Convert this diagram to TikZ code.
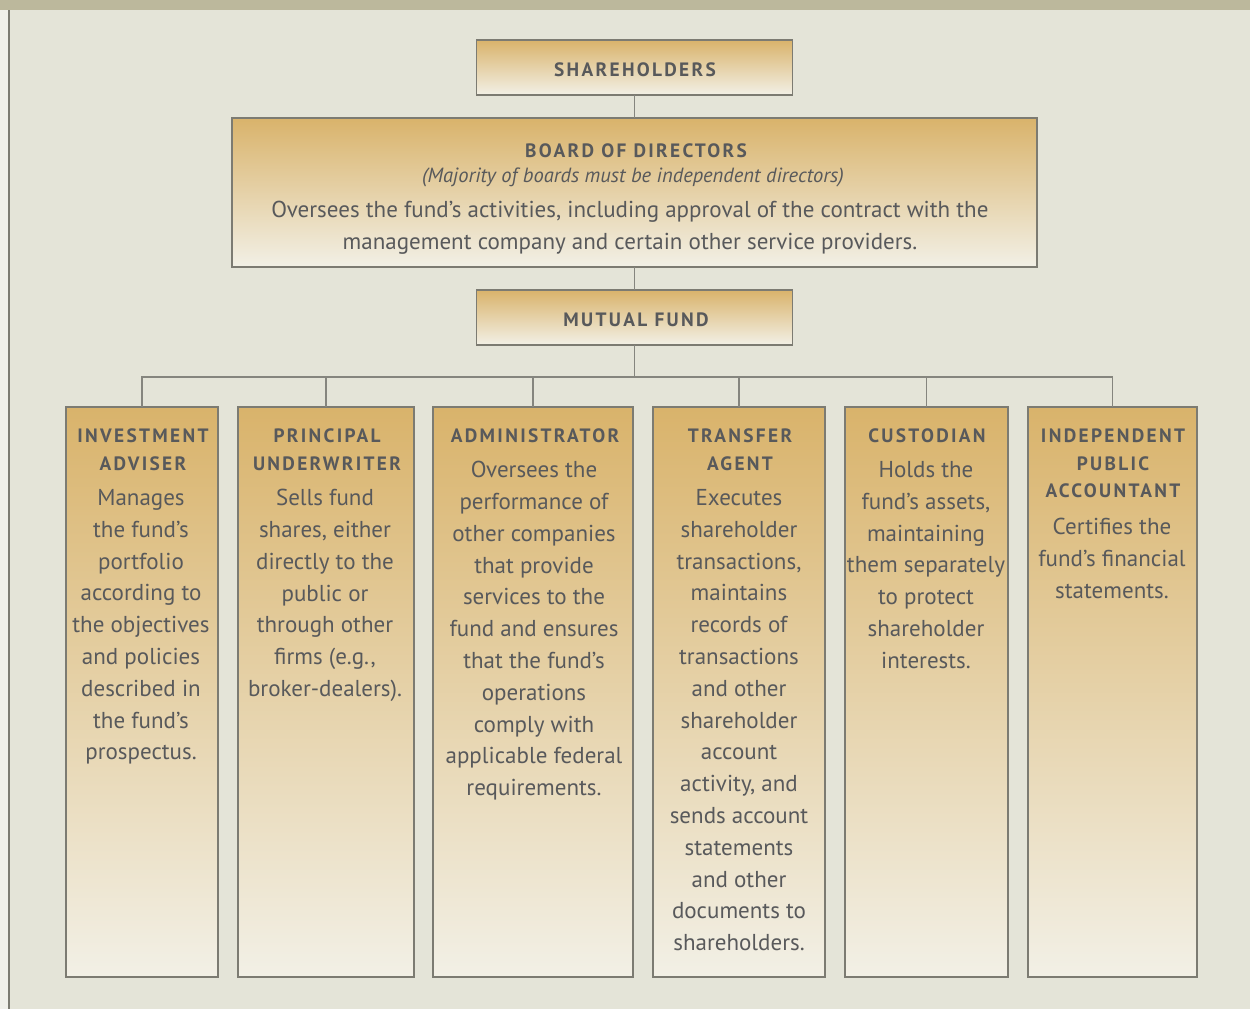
\documentclass[tikz,border=0pt]{standalone}
\usepackage{fontspec}
\setmainfont{PT Sans}
\newfontfamily\headfont[LetterSpace=12]{PT Sans}
\usepackage{tikz}
\definecolor{paper}{HTML}{E4E4D8}
\definecolor{band}{HTML}{BCB89C}
\definecolor{edge}{HTML}{F0F0EA}
\definecolor{ink}{HTML}{58595B}
\definecolor{gold}{HTML}{D9B36B}
\definecolor{cream}{HTML}{F2F0E6}
\definecolor{frame}{HTML}{7C7B72}
\definecolor{wire}{HTML}{85857E}

\begin{document}
\begin{tikzpicture}[x=0.02cm, y=-0.02cm,
    box/.style={draw=frame, line width=0.7pt, top color=gold, bottom color=cream,
                inner sep=0pt, outer sep=0pt},
    head/.style={text=ink, align=center, inner sep=0pt, anchor=north,
                 font=\headfont\bfseries\fontsize{11}{15.9}\selectfont},
    body/.style={text=ink, align=center, inner sep=0pt, anchor=north,
                 font=\fontsize{13.1}{18.1}\selectfont},
    note/.style={text=ink, align=center, inner sep=0pt, anchor=north,
                 font=\itshape\fontsize{11.7}{14}\selectfont},
    wired/.style={draw=wire, line width=0.7pt}]

      \useasboundingbox (0, 0) rectangle (1250, 1008);
      \fill[paper] (-10, -10) rectangle (1260, 1020);
      \fill[edge] (-10, 10) rectangle (9, 1020);
      \draw[frame, line width=0.7pt] (9, 10) -- (9, 1020);
      \fill[band] (-10, -10) rectangle (1260, 10);

      \node[box, minimum width=6.32cm, minimum height=1.1cm](Share) at (634.5, 67.5) {};
      \node[head](ShareH) at (635, 62) {SHAREHOLDERS};

      \node[box, minimum width=16.1cm, minimum height=2.98cm](Board) at (634.5, 192.5) {};
        \node[head](BoardH) at (636, 143) {BOARD OF DIRECTORS};
        \node[note](BoardI) at (633, 167.5) {(Majority of boards must be independent directors)};
        \node[body](BoardT) at (630, 201) {Oversees the fund’s activities, including approval of the contract with the\\
                                           management company and certain other service providers.};

      \node[box, minimum width=6.32cm, minimum height=1.1cm](Fund) at (634.5, 317.5) {};
      \node[head](FundH) at (636, 312) {MUTUAL FUND};

      \coordinate(Bus) at (634.5, 377);

      \node[box, minimum width=3.04cm, minimum height=11.4cm](Adv) at (142, 692) {};
        \node[head](AdvH) at (143, 428) {INVESTMENT\\ADVISER};
        \node[body](AdvT) at (141, 489) {Manages\\the fund’s\\portfolio\\according to\\the objectives\\and policies\\described in\\the fund’s\\prospectus.};

      \node[box, minimum width=3.52cm, minimum height=11.4cm](Und) at (326, 692) {};
        \node[head](UndH) at (327, 428) {PRINCIPAL\\UNDERWRITER};
        \node[body](UndT) at (325, 489) {Sells fund\\shares, either\\directly to the\\public or\\through other\\firms (e.g.,\\broker-dealers).};

      \node[box, minimum width=4cm, minimum height=11.4cm](Adm) at (533, 692) {};
        \node[head](AdmH) at (535, 428) {ADMINISTRATOR};
        \node[body](AdmT) at (534, 461) {Oversees the\\performance of\\other companies\\that provide\\services to the\\fund and ensures\\that the fund’s\\operations\\comply with\\applicable federal\\requirements.};

      \node[box, minimum width=3.44cm, minimum height=11.4cm](Tra) at (739, 692) {};
        \node[head](TraH) at (740, 428) {TRANSFER\\AGENT};
        \node[body](TraT) at (739, 489) {Executes\\shareholder\\transactions,\\maintains\\records of\\transactions\\and other\\shareholder\\account\\activity, and\\sends account\\statements\\and other\\documents to\\shareholders.};

      \node[box, minimum width=3.26cm, minimum height=11.4cm](Cus) at (926.5, 692) {};
        \node[head](CusH) at (927, 428) {CUSTODIAN};
        \node[body](CusT) at (926, 461) {Holds the\\fund’s assets,\\maintaining\\them separately\\to protect\\shareholder\\interests.};

      \node[box, minimum width=3.38cm, minimum height=11.4cm](Acc) at (1112.5, 692) {};
        \node[head](AccH) at (1113, 428) {INDEPENDENT\\PUBLIC\\ACCOUNTANT};
        \node[body](AccT) at (1112, 518) {Certifies the\\fund’s financial\\statements.};

      \draw[wired] (Share) -- (Board) (Board) -- (Fund) (Fund) -- (Bus)
            (Adv.north) |- (Bus) (Und.north) |- (Bus) (Adm.north) |- (Bus)
            (Tra.north) |- (Bus) (Cus.north) |- (Bus) (Acc.north) |- (Bus);
    \end{tikzpicture}
\end{document}
